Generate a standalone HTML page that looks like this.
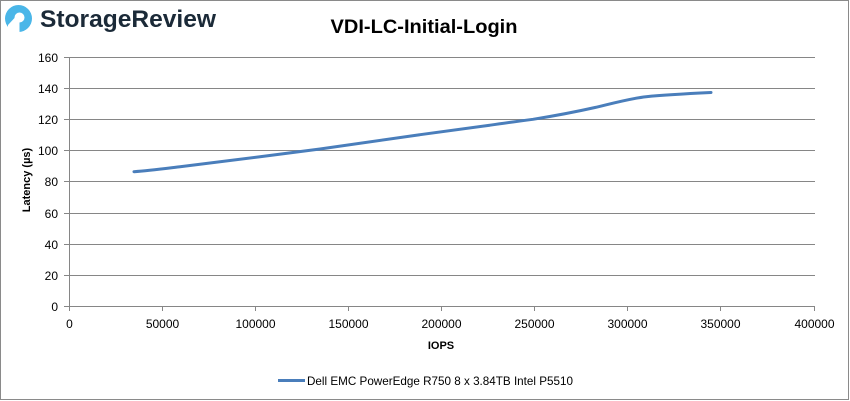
<!DOCTYPE html>
<html><head><meta charset="utf-8"><style>
html,body{margin:0;padding:0;background:#fff;}
svg{display:block;}
text{font-family:"Liberation Sans",Arial,sans-serif;fill:#000;}
</style></head><body>
<svg width="850" height="401" viewBox="0 0 850 401" xmlns="http://www.w3.org/2000/svg">
<rect x="0.5" y="0.5" width="848" height="399" fill="#fff" stroke="#8a8a8a" stroke-width="1"/>
<!-- logo -->
<circle cx="18.5" cy="18.5" r="13.5" fill="#4ab6e8"/>
<circle cx="19.5" cy="17.5" r="5" fill="#fff"/>
<path d="M14.5 18 L14.5 32.5 L8 32.5 L8 25 Z" fill="#fff"/>
<rect x="14.5" y="17.5" width="5" height="15" fill="#fff"/>
<text x="40" y="27" font-size="24" font-weight="bold" fill="#1b2a38" style="fill:#1b2a38" textLength="176" lengthAdjust="spacingAndGlyphs">StorageReview</text>
<!-- title -->
<text x="424" y="33" font-size="19" font-weight="bold" text-anchor="middle" textLength="187" lengthAdjust="spacingAndGlyphs">VDI-LC-Initial-Login</text>
<!-- gridlines -->
<g stroke="#868686" stroke-width="1" shape-rendering="crispEdges">
<line x1="64" y1="57.5" x2="815" y2="57.5"/>
<line x1="64" y1="88.5" x2="815" y2="88.5"/>
<line x1="64" y1="119.5" x2="815" y2="119.5"/>
<line x1="64" y1="150.5" x2="815" y2="150.5"/>
<line x1="64" y1="181.5" x2="815" y2="181.5"/>
<line x1="64" y1="213.5" x2="815" y2="213.5"/>
<line x1="64" y1="244.5" x2="815" y2="244.5"/>
<line x1="64" y1="275.5" x2="815" y2="275.5"/>
<line x1="64" y1="306.5" x2="815" y2="306.5"/>
<line x1="69.5" y1="57" x2="69.5" y2="311"/>
<line x1="162.5" y1="306" x2="162.5" y2="311"/>
<line x1="255.5" y1="306" x2="255.5" y2="311"/>
<line x1="348.5" y1="306" x2="348.5" y2="311"/>
<line x1="441.5" y1="306" x2="441.5" y2="311"/>
<line x1="534.5" y1="306" x2="534.5" y2="311"/>
<line x1="627.5" y1="306" x2="627.5" y2="311"/>
<line x1="720.5" y1="306" x2="720.5" y2="311"/>
<line x1="814.5" y1="306" x2="814.5" y2="311"/>
</g>
<!-- y labels -->
<g font-size="12" text-anchor="end">
<text x="58" y="62">160</text>
<text x="58" y="93">140</text>
<text x="58" y="124">120</text>
<text x="58" y="155">100</text>
<text x="58" y="186">80</text>
<text x="58" y="218">60</text>
<text x="58" y="249">40</text>
<text x="58" y="280">20</text>
<text x="58" y="311">0</text>
</g>
<!-- x labels -->
<g font-size="12" text-anchor="middle">
<text x="69.5" y="328">0</text>
<text x="162.5" y="328">50000</text>
<text x="255.5" y="328">100000</text>
<text x="348.5" y="328">150000</text>
<text x="441.5" y="328">200000</text>
<text x="534.5" y="328">250000</text>
<text x="627.5" y="328">300000</text>
<text x="720.5" y="328">350000</text>
<text x="814.5" y="328">400000</text>
</g>
<text x="441" y="349" font-size="11" font-weight="bold" text-anchor="middle">IOPS</text>
<text transform="translate(30,180) rotate(-90)" font-size="11" font-weight="bold" text-anchor="middle">Latency (µs)</text>
<!-- series -->
<path d="M134 171.7 C150 170.5 165 168.5 182 166.5 C200 164.3 230 160.5 260 156.7 C290 153 305 151 320 149 C350 144.8 385 139.7 420 134.7 C450 130.5 470 128 490 125.2 C505 123 520 121 533 119.3 C555 115.8 575 112 595 107.5 C612 103.5 630 98.5 646 96.7 C665 94.8 690 93.5 711 92.5" fill="none" stroke="#4a7ebb" stroke-width="3" stroke-linecap="round" stroke-linejoin="round"/>
<!-- legend -->
<line x1="278" y1="380.5" x2="305" y2="380.5" stroke="#4a7ebb" stroke-width="3"/>
<text x="307" y="385" font-size="12" textLength="266" lengthAdjust="spacingAndGlyphs">Dell EMC PowerEdge R750 8 x 3.84TB Intel P5510</text>
</svg>
</body></html>
